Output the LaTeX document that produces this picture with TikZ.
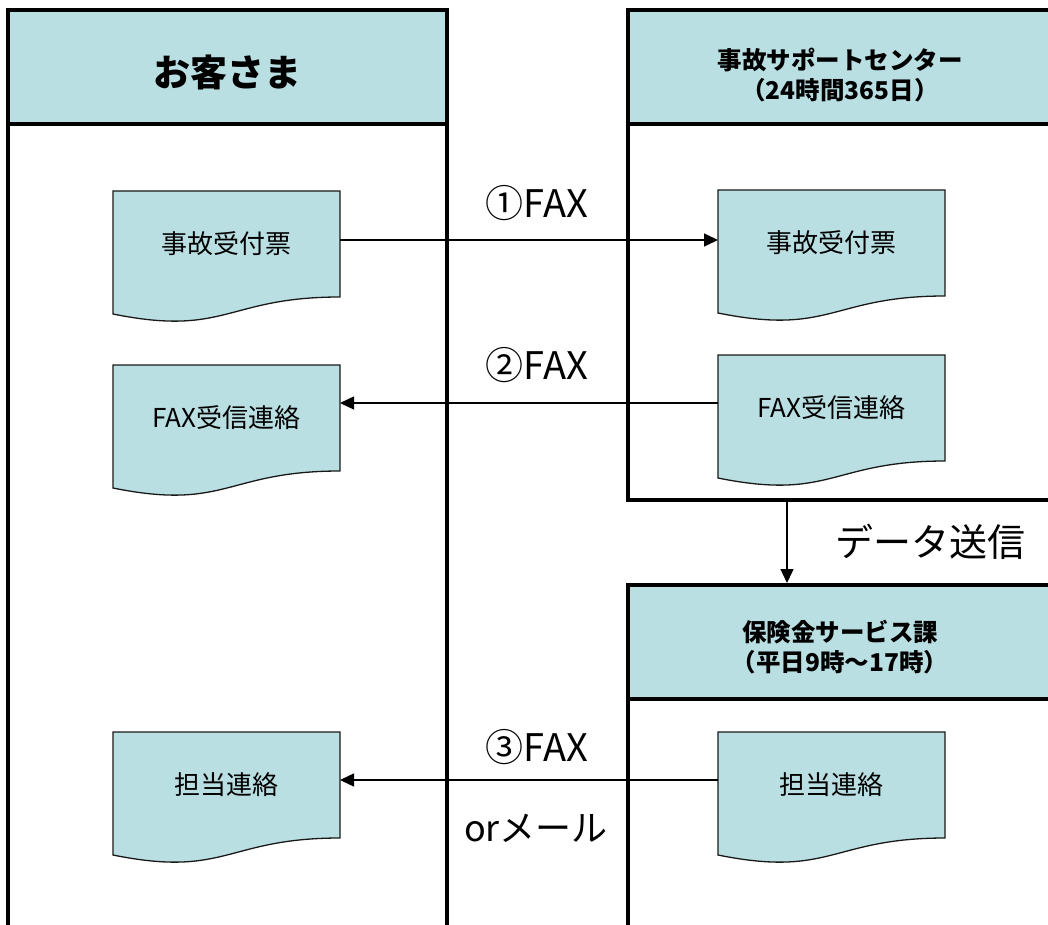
\documentclass[tikz,border=0pt]{standalone}
\usepackage{fontspec}
\setmainfont{Noto Sans CJK JP}
\usetikzlibrary{arrows.meta,backgrounds}
\definecolor{docfill}{RGB}{185,223,227}
\newcommand\mydocshape[1]{%
  \filldraw[docline] (#1.north west) -- (#1.north east) -- (#1.south east)
    .. controls (#1.south) and ([yshift=-40pt]#1.south) .. ([yshift=-17pt]#1.south west) -- cycle;}
\begin{document}
\begin{tikzpicture}[x=1pt,y=-1pt,
  lane/.style={draw=black, line width=4.5pt, inner sep=0pt, outer sep=0pt, anchor=north west},
  header/.style={lane, fill=docfill},
  headtext/.style={align=center, inner sep=0pt, font=\bfseries\fontsize{24.5}{30}\selectfont},
  docbox/.style={inner sep=0pt, outer sep=0pt, minimum width=227pt, minimum height=106pt,
    anchor=north west, font=\fontsize{26}{30}\selectfont},
  docline/.style={draw=black!90, fill=docfill, line width=1.3pt},
  flow/.style={line width=1.4pt, -{Triangle[length=14pt,width=13pt]}},
  biglabel/.style={font=\fontsize{38}{44}\selectfont, inner sep=0pt}]
\useasboundingbox (0,0) rectangle (1048,925);

% lanes
\node[lane, minimum width=439pt, minimum height=940pt] (laneC) at (8,10) {};
\node[lane, minimum width=424pt, minimum height=490pt] (laneS) at (628,10) {};
\node[lane, minimum width=424pt, minimum height=365pt] (laneH) at (628,585) {};

% headers
\node[header, minimum width=439pt, minimum height=114pt] (hC) at (8,10) {};
\node[header, minimum width=424pt, minimum height=114pt] (hS) at (628,10) {};
\node[header, minimum width=424pt, minimum height=114pt] (hH) at (628,585) {};
\node[headtext, font=\bfseries\fontsize{37}{40}\selectfont] (hCt) at ([yshift=-5pt]hC.center) {お客さま};
\node[headtext] (hSt) at ([yshift=-8pt]hS.center) {事故サポートセンター\\（24時間365日）};
\node[headtext] (hHt) at ([yshift=-5pt]hH.center) {保険金サービス課\\（平日9時～17時）};

% documents
\node[docbox] (L1) at (113,191) {事故受付票};
\node[docbox] (L2) at (113,365) {FAX受信連絡};
\node[docbox] (L3) at (113,732) {担当連絡};
\node[docbox] (R1) at (718,190) {事故受付票};
\node[docbox] (R2) at (718,355) {FAX受信連絡};
\node[docbox] (R3) at (718,732) {担当連絡};
\begin{scope}[on background layer]
  \mydocshape{L1}\mydocshape{L2}\mydocshape{L3}
  \mydocshape{R1}\mydocshape{R2}\mydocshape{R3}
\end{scope}

% connectors
\draw[flow] ([yshift=4pt]L1.east) -- ([yshift=4pt]L1.east -| R1.west);
\draw[flow] ([yshift=5pt]R2.west) -- ([yshift=5pt]R2.west -| L2.east);
\draw[flow] ([yshift=5pt]R3.west) -- ([yshift=5pt]R3.west -| L3.east);
\draw[flow, shorten <=2pt, shorten >=2pt] ([xshift=159pt]laneS.south west) -- ([xshift=159pt]laneH.north west);

% labels
\node[biglabel] (t1) at (537,203) {①FAX};
\node[biglabel] (t2) at (537,365) {②FAX};
\node[biglabel] (t3) at (537,747) {③FAX};
\node[biglabel, font=\fontsize{36}{40}\selectfont] (t4) at (536,828) {orメール};
\node[biglabel] (t5) at (930,542) {データ送信};
\end{tikzpicture}
\end{document}
